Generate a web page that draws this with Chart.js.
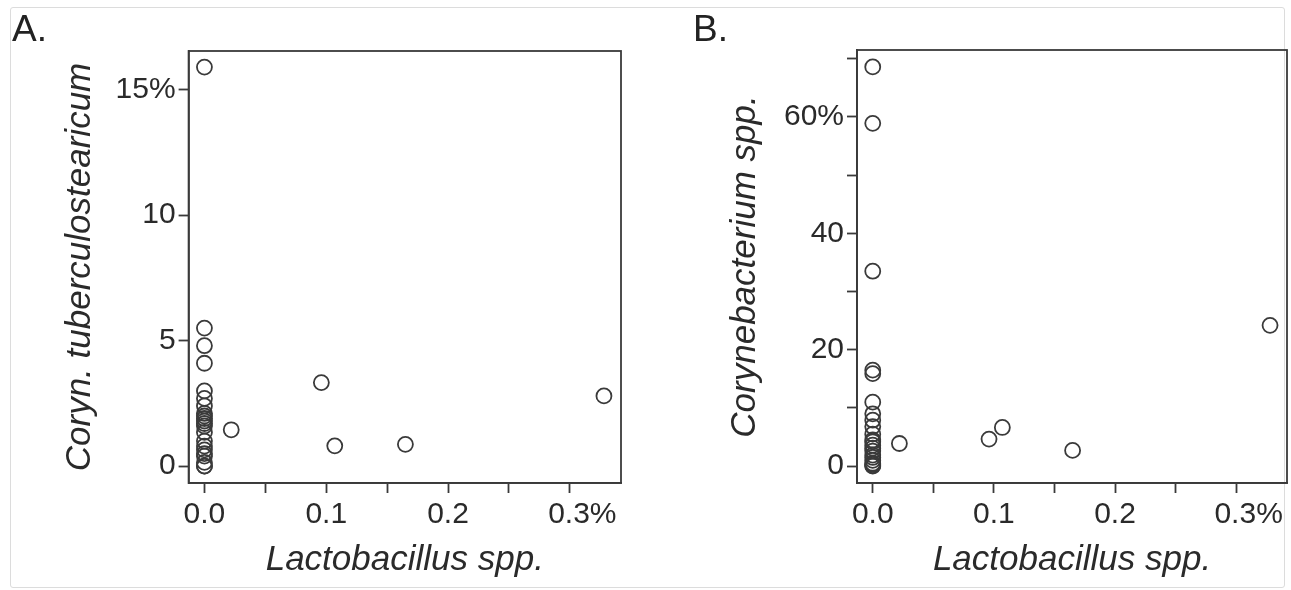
<!DOCTYPE html>
<html>
<head>
<meta charset="utf-8">
<script src="https://cdn.jsdelivr.net/npm/chart.js@4/dist/chart.umd.min.js"></script>
<style>
    html, body { margin: 0; padding: 0; background: #fff; }
    body { width: 1291px; height: 590px; position: relative; overflow: hidden; font-family: "Liberation Sans", Arial, sans-serif; }
    #frame { position: absolute; left: 10px; top: 7px; width: 1273px; height: 579px; border: 1px solid #dcdcdc; border-radius: 3px; }
    .panel { position: absolute; top: 0; height: 590px; }
    #wrapA { left: 0; width: 645px; }
    #wrapB { left: 645px; width: 646px; }
    .tag { position: absolute; top: 8px; font-size: 37px; color: #222; }
</style>
</head>
<body>
<div id="frame"></div>
<div id="wrapA" class="panel"><canvas id="chartA"></canvas></div>
<div id="wrapB" class="panel"><canvas id="chartB"></canvas></div>
<div class="tag" style="left:12px">A.</div>
<div class="tag" style="left:693px">B.</div>
<script>
// Lactobacillus spp. (%), samples with zero abundance plotted at 0
const lactoNonZero = [0.022, 0.096, 0.107, 0.165, 0.328];

// Coryn. tuberculostearicum (%) - panel A
const corynTubZero = [15.9, 5.5, 4.8, 4.1, 3.0, 2.7, 2.4, 2.1, 2.0, 1.9, 1.8, 1.7, 1.6, 1.35, 1.0, 0.8, 0.65, 0.5, 0.4, 0.15, 0.0, 0.0];
const corynTubNonZero = [1.45, 3.33, 0.81, 0.87, 2.80];

// Corynebacterium spp. (%) - panel B
const corynSppZero = [68.6, 58.9, 33.5, 16.5, 15.9, 11.0, 9.0, 7.9, 6.8, 5.5, 4.5, 4.2, 3.6, 3.1, 2.6, 1.9, 1.5, 1.0, 0.5, 0.3, 0.1, 0.0];
const corynSppNonZero = [3.9, 4.65, 6.65, 2.71, 24.2];

// ticks
const xTickValues = [0, 0.05, 0.1, 0.15, 0.2, 0.25, 0.3];
const xTickLabels = ['0.0', '', '0.1', '', '0.2', '', '   0.3%'];
const yTickValuesA = [0, 5, 10, 15];
const yTickLabelsA = ['0', '5', '10', '15%'];
const yTickValuesB = [0, 10, 20, 30, 40, 50, 60, 70];
const yTickLabelsB = ['0', '', '20', '', '40', '', '60%', ''];

const ink = '#3a3a3a';
const textInk = '#2a2a2a';
const fontFam = '"Liberation Sans", Arial, sans-serif';

function buildPoints(zeroVals, nonZeroVals) {
    const pts = [];
    zeroVals.forEach(v => pts.push({ x: 0, y: v }));
    nonZeroVals.forEach((v, i) => pts.push({ x: lactoNonZero[i], y: v }));
    return pts;
}

// draws the full box around the plot area
const boxPlugin = {
    id: 'box',
    afterDraw(chart) {
        const a = chart.chartArea;
        const ctx = chart.ctx;
        ctx.save();
        ctx.strokeStyle = ink;
        ctx.lineWidth = 1.8;
        ctx.strokeRect(a.left, a.top, a.right - a.left, a.bottom - a.top);
        ctx.restore();
    }
};

function makeChart(id, cfg) {
    const canvas = document.getElementById(id);
    canvas.width = cfg.w;
    canvas.height = 590;
    canvas.style.width = cfg.w + 'px';
    canvas.style.height = '590px';

    return new Chart(canvas, {
        type: 'scatter',
        data: {
            datasets: [{
                data: cfg.points,
                pointStyle: 'circle',
                pointRadius: 7.5,
                pointHoverRadius: 7.5,
                pointBorderWidth: 1.8,
                borderColor: ink,
                backgroundColor: 'rgba(0,0,0,0)'
            }]
        },
        options: {
            responsive: false,
            animation: false,
            devicePixelRatio: 1,
            layout: { autoPadding: false, padding: { left: 0, right: cfg.padRight, top: cfg.padTop, bottom: 0 } },
            plugins: { legend: { display: false }, tooltip: { enabled: false } },
            scales: {
                x: {
                    type: 'linear',
                    min: -0.013,
                    max: 0.342,
                    afterBuildTicks: s => { s.ticks = xTickValues.map(v => ({ value: v })); },
                    afterFit: s => { s.height = cfg.xAxisHeight; s.paddingLeft = 0; s.paddingRight = 0; },
                    grid: { drawOnChartArea: false, drawTicks: true, tickLength: 10, tickWidth: 1.8, color: ink },
                    border: { display: true, color: ink, width: 1.8 },
                    ticks: {
                        autoSkip: false,
                        maxRotation: 0,
                        padding: 4,
                        color: textInk,
                        font: { family: fontFam, size: 30 },
                        callback: (v) => xTickLabels[xTickValues.indexOf(v)] ?? ''
                    },
                    title: {
                        display: true,
                        text: 'Lactobacillus spp.',
                        color: textInk,
                        font: { family: fontFam, size: 35, style: 'italic' },
                        padding: { top: 0, bottom: 9 }
                    }
                },
                y: {
                    type: 'linear',
                    min: cfg.yMin,
                    max: cfg.yMax,
                    afterBuildTicks: s => { s.ticks = cfg.yTicks.map(v => ({ value: v })); },
                    afterFit: s => { s.width = cfg.yAxisWidth; },
                    grid: { drawOnChartArea: false, drawTicks: true, tickLength: 10, tickWidth: 1.8, color: ink },
                    border: { display: true, color: ink, width: 1.8 },
                    ticks: {
                        autoSkip: false,
                        padding: 3,
                        color: textInk,
                        font: { family: fontFam, size: 30 },
                        callback: (v) => cfg.yLabels[cfg.yTicks.indexOf(v)] ?? ''
                    },
                    title: {
                        display: true,
                        text: cfg.yTitle,
                        color: textInk,
                        font: { family: fontFam, size: 35, style: 'italic' },
                        padding: { top: cfg.yTitlePad, bottom: 0 }
                    }
                }
            }
        },
        plugins: [boxPlugin]
    });
}

makeChart('chartA', {
    w: 645,
    points: buildPoints(corynTubZero, corynTubNonZero),
    yMin: -0.67, yMax: 16.54,
    yTicks: yTickValuesA, yLabels: yTickLabelsA,
    yTitle: 'Coryn. tuberculostearicum',
    yAxisWidth: 188.6,
    xAxisHeight: 107,
    padRight: 24,
    padTop: 51,
    yTitlePad: 59
});

makeChart('chartB', {
    w: 646,
    points: buildPoints(corynSppZero, corynSppNonZero),
    yMin: -2.89, yMax: 71.5,
    yTicks: yTickValuesB, yLabels: yTickLabelsB,
    yTitle: 'Corynebacterium spp.',
    yAxisWidth: 212,
    xAxisHeight: 107,
    padRight: 4,
    padTop: 50,
    yTitlePad: 79
});
</script>
</body>
</html>
